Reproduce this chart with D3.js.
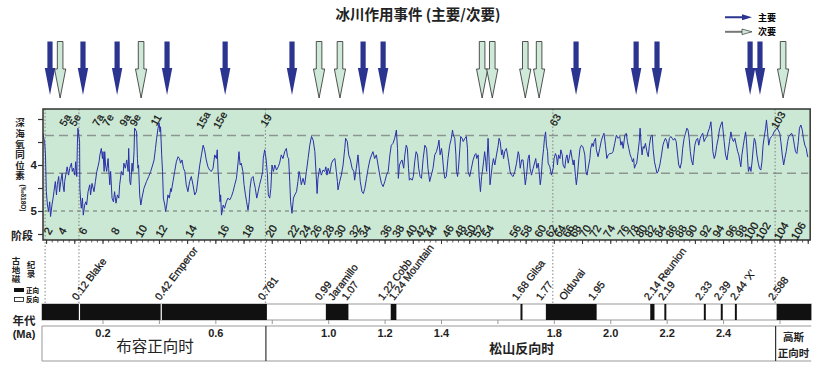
<!DOCTYPE html>
<html>
<head>
<meta charset="utf-8">
<script src="https://cdn.jsdelivr.net/npm/d3@7"></script>
<style>
  body { margin: 0; background: #fff; }
</style>
</head>
<body>
<svg id="chart" width="821" height="366"></svg>
<script>
// ---- data ----
var titleText = '冰川作用事件 (主要/次要)';

// glaciation events (Ma)
var majorEvents = [0.012, 0.129, 0.250, 0.427, 0.633, 0.870, 1.122, 1.193, 1.877, 2.090, 2.164, 2.494, 2.529];
var minorEvents = [0.048, 0.335, 0.966, 1.040, 1.544, 1.580, 1.697, 1.746, 2.611];

// deep sea oxygen isotope record, [age kyr, d18O permil]
var record1 = [[-13,3.31],[-10,3.42],[-7,3.49],[-4,3.78],[-1,4.58],[3,4.87],[7,5.01],[11,4.80],[14,5.12],[19,4.87],[23,4.72],[26,4.58],[31,4.36],[35,4.65],[38,4.43],[43,4.25],[46,4.58],[50,4.36],[55,4.18],[58,4.43],[62,4.58],[64,4.36],[70,4.14],[73,4.04],[78,4.22],[82,4.07],[88,3.96],[91,4.14],[95,4.07],[100,4.22],[103,3.93],[107,4.25],[109,3.57],[111,3.20],[114,3.35],[117,3.49],[118,4.51],[121,4.80],[123,4.94],[127,4.72],[130,5.09],[135,4.87],[139,4.80],[142,4.87],[147,4.58],[153,4.43],[156,4.65],[161,4.40],[168,4.58],[173,4.36],[178,4.14],[182,4.04],[186,3.93],[189,3.78],[194,3.64],[198,3.86],[200,3.71],[204,4.14],[206,3.71],[209,4.00],[213,4.14],[218,3.86],[220,4.07],[224,4.43],[227,4.14],[232,4.72],[237,4.80],[241,4.58],[246,4.83],[251,4.65],[256,4.72],[259,4.43],[265,4.14],[271,4.22],[274,3.96],[279,4.07],[284,3.89],[289,4.14],[291,3.64],[295,4.36],[298,4.43],[303,3.96],[306,4.14],[310,3.71],[312,3.20],[316,3.24],[319,3.28],[322,3.86],[324,4.07],[326,4.00],[330,4.65],[334,4.87],[338,4.72],[345,4.51],[354,4.36],[362,4.25],[369,4.14],[376,4.00],[381,3.89],[386,3.64],[390,3.42],[395,3.20],[399,3.09],[402,3.28],[404,3.17],[408,3.78],[411,4.14],[414,4.72],[419,4.87],[422,5.01],[426,4.87],[430,4.65],[435,4.72],[440,4.51],[442,4.58],[448,4.36],[454,4.14],[460,3.93],[466,3.82],[471,3.86],[475,3.96],[480,3.89],[485,4.07],[490,4.14],[495,4.43],[501,4.58],[507,4.36],[513,4.25],[519,4.43],[525,4.65],[531,4.58],[537,4.29],[543,4.00],[549,3.78],[555,3.57],[560,3.67],[566,3.89],[572,4.04],[578,4.11],[584,4.14],[590,4.07],[596,3.78],[602,3.86],[605,3.67],[608,4.14],[611,4.43],[615,4.80],[617,4.65],[620,5.09],[626,4.87],[631,4.94],[637,4.80],[643,4.72],[649,4.76],[655,4.69]];
var record2 = [[661,4.58],[667,4.43],[673,4.29],[679,3.93],[682,3.71],[686,4.00],[690,3.96],[696,4.14],[700,4.43],[705,4.65],[709,4.80],[714,4.98],[718,4.80],[721,4.51],[726,4.29],[732,4.25],[735,4.36],[740,4.51],[745,4.72],[750,4.58],[755,4.43],[761,4.29],[766,4.14],[768,3.86],[773,3.67],[778,3.86],[783,4.22],[786,4.65],[791,4.72],[795,4.51],[799,4.00],[804,4.14],[809,4.00],[815,4.11],[821,4.04],[826,3.96],[832,3.78],[838,3.86],[844,3.71],[850,3.64],[854,3.82],[858,3.86],[862,4.36],[865,4.80],[870,5.05],[875,4.72],[880,4.65],[886,4.58],[891,4.36],[895,4.14],[898,4.22],[903,4.43],[909,4.29],[915,4.43],[921,4.14],[927,3.86],[933,3.57],[939,3.38],[945,3.46],[951,3.71],[955,4.14],[959,4.62],[962,4.29],[968,4.07],[974,4.22],[980,4.11],[986,4.14],[990,4.04],[994,4.22],[998,4.07],[1004,4.18],[1010,3.96],[1016,3.89],[1022,3.86],[1027,4.14],[1031,4.36],[1033,4.54],[1039,4.36],[1045,4.22],[1051,4.00],[1057,3.64],[1060,3.42],[1066,3.49],[1071,3.78],[1077,3.89],[1083,4.07],[1089,4.14],[1092,4.33],[1098,4.07],[1104,3.78],[1108,4.07],[1112,4.36],[1118,4.58],[1123,4.62],[1128,4.51],[1134,4.29],[1140,4.07],[1146,3.89],[1152,3.78],[1157,3.71],[1163,3.86],[1169,3.78],[1175,4.00],[1181,4.22],[1187,4.40],[1193,4.47],[1199,4.36],[1205,4.22],[1211,4.14],[1217,3.78],[1222,3.57],[1228,3.53],[1234,3.42],[1240,3.24],[1244,3.64],[1247,4.29],[1251,4.00],[1256,3.93],[1260,3.89],[1266,4.07],[1270,3.78],[1275,3.57],[1279,3.64],[1283,4.07],[1286,4.33],[1291,4.29],[1296,4.33],[1300,4.25],[1305,3.93],[1310,3.71],[1315,3.78],[1319,4.07],[1324,4.25],[1329,4.29]];
var record3 = [[1335,3.86],[1341,3.57],[1347,3.64],[1352,4.07],[1358,4.36],[1364,4.22],[1370,4.07],[1376,3.78],[1382,3.71],[1388,3.57],[1391,3.46],[1395,3.78],[1400,3.64],[1403,3.78],[1408,4.14],[1412,4.29],[1417,4.25],[1423,3.86],[1429,3.57],[1435,3.42],[1439,3.24],[1442,3.35],[1447,3.42],[1451,3.78],[1453,4.14],[1457,4.25],[1461,4.00],[1465,3.64],[1468,3.38],[1473,3.42],[1477,3.49],[1483,3.42],[1488,3.38],[1492,3.64],[1494,4.14],[1500,4.25],[1506,4.07],[1512,3.89],[1518,3.78],[1522,3.75],[1525,3.86],[1530,3.78],[1533,4.22],[1538,4.58],[1542,4.25],[1545,4.14],[1549,3.93],[1553,3.71],[1557,3.93],[1560,4.14],[1565,3.42],[1569,3.93],[1572,4.43],[1576,4.22],[1580,4.00],[1584,3.86],[1589,4.00],[1595,3.78],[1601,3.57],[1604,3.42],[1608,3.49],[1613,3.78],[1616,3.67],[1620,3.86],[1624,3.71],[1630,3.64],[1634,3.78],[1638,3.93],[1643,4.14],[1648,4.22],[1654,4.25],[1660,4.14],[1666,3.96],[1672,3.71],[1675,3.78],[1679,4.07],[1684,3.89],[1689,3.89],[1693,4.14],[1697,4.43],[1701,4.25],[1707,3.86],[1711,3.78],[1714,4.07],[1719,4.22],[1725,4.07],[1731,3.93],[1734,3.86],[1738,4.07],[1743,3.96],[1746,4.14],[1750,4.43],[1753,4.29],[1757,3.93],[1762,3.64],[1765,3.42],[1769,3.28],[1772,3.57],[1776,3.71],[1778,3.96],[1784,4.04],[1790,4.22],[1796,4.07],[1799,3.86],[1804,3.75],[1808,3.82],[1811,4.00],[1815,3.78],[1820,3.86],[1823,3.67],[1828,3.78],[1831,4.00],[1837,4.07],[1841,3.86],[1845,3.78],[1849,3.96],[1855,3.78],[1858,3.67],[1863,3.86],[1867,4.00],[1870,3.89],[1875,4.25],[1878,4.43],[1882,4.22],[1887,3.86],[1891,3.64],[1896,3.57],[1901,3.60],[1904,3.67],[1908,3.78],[1912,4.14],[1916,4.22],[1920,4.07],[1926,3.86],[1929,3.64],[1934,3.53],[1938,3.60],[1941,3.49],[1946,3.42],[1949,3.67],[1955,3.82],[1961,3.64],[1967,3.46],[1973,3.35],[1976,3.31],[1981,3.57],[1986,3.86],[1991,3.78],[1997,3.75],[2003,3.75]];
var record4 = [[2008,3.71],[2014,3.53],[2020,3.35],[2026,3.42],[2032,3.38],[2036,3.57],[2040,3.49],[2044,3.64],[2050,3.35],[2055,3.31],[2059,3.49],[2064,3.64],[2069,3.78],[2074,3.86],[2077,3.93],[2081,3.86],[2084,4.07],[2088,4.00],[2092,3.96],[2097,3.71],[2101,3.49],[2104,3.20],[2108,3.57],[2111,3.78],[2115,3.60],[2118,3.64],[2123,3.53],[2128,3.71],[2133,3.82],[2137,3.57],[2142,3.38],[2147,3.35],[2150,3.64],[2155,3.93],[2160,4.07],[2164,4.18],[2168,4.14],[2174,4.00],[2180,3.78],[2185,3.57],[2189,3.49],[2194,3.42],[2199,3.49],[2203,3.64],[2208,3.42],[2213,3.38],[2218,3.42],[2222,3.46],[2227,3.42],[2232,3.49],[2237,3.78],[2241,4.00],[2246,4.07],[2251,3.93],[2255,3.64],[2260,3.42],[2265,3.31],[2270,3.20],[2274,3.24],[2278,3.42],[2282,3.71],[2286,3.89],[2291,4.00],[2295,3.75],[2298,3.57],[2303,3.46],[2308,3.42],[2312,3.57],[2317,3.42],[2322,3.35],[2326,3.31],[2331,3.49],[2336,3.42],[2341,3.38],[2345,3.28],[2350,3.20],[2355,3.06],[2358,3.28],[2362,3.71],[2367,3.86],[2371,3.78],[2376,3.57],[2381,3.42],[2385,3.24],[2390,3.13],[2395,3.06],[2398,3.24],[2402,3.49],[2407,3.78],[2412,3.89],[2416,3.71],[2421,3.49],[2426,3.28],[2430,3.42],[2435,3.49],[2440,3.42],[2445,3.57],[2450,3.71],[2454,3.78],[2458,3.93],[2461,4.04],[2465,3.78],[2470,3.57],[2474,3.42],[2478,3.28],[2481,3.46],[2485,3.86],[2488,4.14],[2493,4.04],[2497,4.14],[2501,3.93],[2506,3.57],[2509,3.42],[2513,3.49],[2518,3.78],[2523,3.96],[2527,4.07],[2532,4.11],[2536,3.93],[2540,3.57],[2545,3.35],[2549,3.20],[2552,3.02],[2556,3.28],[2560,3.57],[2565,3.42],[2570,3.38],[2574,3.35],[2579,3.28],[2584,3.24],[2589,3.20],[2594,3.24],[2599,3.31],[2603,3.49],[2608,3.78],[2613,4.00],[2617,3.86],[2622,3.71],[2627,3.49],[2631,3.38],[2636,3.35],[2641,3.31],[2646,3.38],[2651,3.57],[2655,3.71],[2660,3.75],[2665,3.49],[2669,3.20],[2674,3.13],[2679,3.24],[2683,3.42],[2688,3.57],[2693,3.64],[2698,3.82],[2700,3.82]];

// marine isotope stage labels and where they sit (Ma)
var stageNums = [2,4,6,8,10,12,14,16,18,20,22,24,26,28,30,32,34,36,38,40,42,44,46,48,50,52,54,56,58,60,62,64,66,68,70,72,74,76,78,80,82,84,86,88,90,92,94,96,98,100,102,104,106];
var stageAges = [0.005,0.055,0.129,0.243,0.335,0.406,0.512,0.626,0.714,0.796,0.874,0.916,0.955,0.998,1.040,1.093,1.129,1.203,1.246,1.292,1.328,1.363,1.423,1.466,1.501,1.530,1.565,1.661,1.700,1.750,1.789,1.820,1.849,1.874,1.909,1.945,1.994,2.044,2.079,2.108,2.140,2.175,2.214,2.249,2.285,2.335,2.381,2.427,2.462,2.498,2.540,2.604,2.665];
var peakNames = ['5a','5e','7a','7e','9a','9e','11','15a','15e','19','63','103'];
var peakAges = [0.065,0.101,0.182,0.218,0.278,0.314,0.388,0.555,0.615,0.778,1.803,2.594];
var guideAges = [0, 0.12, 0.781, 1.8, 2.588];

var yTicks = [3, 3.5, 4, 4.5, 5, 5.5];
var yTickLabels = [4, 5];
var gridValues = [3.36, 4.18, 5.0];

// palaeomagnetic record (Ma)
var normalChrons = [[-0.02,0.781],[0.99,1.07],[1.22,1.24],[1.68,1.687],[1.77,1.95],[2.14,2.155],[2.19,2.197],[2.33,2.337],[2.39,2.397],[2.44,2.447],[2.588,2.72]];
var excursions = [0.12, 0.41];
var polarityNames = ['0.12 Blake','0.42 Emperor','0.781','0.99','Jaramillo','1.07','1.22 Cobb','1.24 Mountain','1.68 Gilsa','1.77','Olduvai','1.95','2.14 Reunion','2.19','2.33','2.39','2.44 \u2018X\u2019','2.588'];
var polarityNameAges = [0.108,0.402,0.767,0.969,1.016,1.064,1.193,1.232,1.668,1.753,1.835,1.938,2.136,2.186,2.317,2.384,2.441,2.576];

var ageTicks = [0.2,0.4,0.6,0.8,1.0,1.2,1.4,1.6,1.8,2.0,2.2,2.4,2.6];
var ageTickLabels = ['0.2','0.6','1.0','1.2','1.4','1.8','2.0','2.2','2.4'];
var epochNames = ['布容正向时', '松山反向时', '高斯|正向时'];
var epochBounds = [0.781, 2.588];

// ---- layout ----
var CJK = '"Noto Sans CJK SC", "Noto Sans", sans-serif';
var LAT = '"Liberation Sans", Arial, sans-serif';
var ageMin = -0.0128, ageMax = 2.707;
var plotTop = 109, plotBottom = 240;
var barTop = 304, barBottom = 320;
var boxTop = 326, boxBottom = 361;

var svg = d3.select('#chart');

var x = d3.scaleLinear().domain([0, 2.6]).range([46.6, 780]);
var y = d3.scaleLinear().domain([3, 5]).range([119, 211]);
var L = x(ageMin), R = x(ageMax);

// title
svg.append('text')
  .attr('x', 418).attr('y', 20)
  .attr('text-anchor', 'middle')
  .style('font', 'bold 14.5px ' + CJK)
  .style('fill', '#222')
  .text(titleText);

// arrows
function downArrow(cx, half, headHalf, top, neck, tip) {
  return 'M' + (cx - half) + ',' + top + 'H' + (cx + half) + 'V' + neck +
    'H' + (cx + headHalf) + 'L' + cx + ',' + tip + 'L' + (cx - headHalf) + ',' + neck +
    'H' + (cx - half) + 'Z';
}
svg.append('g').selectAll('path')
  .data(minorEvents).enter().append('path')
  .attr('d', function(d) { return downArrow(x(d), 2.8, 5.6, 41.5, 69, 98); })
  .attr('fill', '#cfe9d9')
  .attr('stroke', '#2a2a2a')
  .attr('stroke-width', 0.8);
svg.append('g').selectAll('path')
  .data(majorEvents).enter().append('path')
  .attr('d', function(d) { return downArrow(x(d), 2.6, 5.2, 41.5, 68, 95); })
  .attr('fill', '#2b3590');

// legend
var leg = svg.append('g');
leg.append('path')
  .attr('d', 'M725,16.3H742V14.3L752,17.3L742,20.3V18.3H725Z')
  .attr('fill', '#2b3590');
leg.append('path')
  .attr('d', 'M725,30.8H742V32.8H725Z')
  .attr('fill', '#777');
leg.append('path')
  .attr('d', 'M742,29L752,31.8L742,34.6Z')
  .attr('fill', '#cfe9d9').attr('stroke', '#333').attr('stroke-width', 0.7);
leg.append('text').attr('x', 758).attr('y', 20.5).style('font', 'bold 9px ' + CJK).text('主要');
leg.append('text').attr('x', 758).attr('y', 35).style('font', 'bold 9px ' + CJK).text('次要');

// plot background
svg.append('rect')
  .attr('x', L).attr('y', plotTop)
  .attr('width', R - L).attr('height', plotBottom - plotTop)
  .attr('fill', '#cbe8d5');

// grid lines
svg.append('g').selectAll('line')
  .data(gridValues).enter().append('line')
  .attr('x1', L + 2).attr('x2', R - 2)
  .attr('y1', function(d) { return y(d); })
  .attr('y2', function(d) { return y(d); })
  .attr('stroke', '#8c9690')
  .attr('stroke-width', 1.5)
  .attr('stroke-dasharray', function(d, i) { return i < 2 ? '9,5' : '4,4'; });

// dotted guides
svg.append('g').selectAll('line')
  .data(guideAges).enter().append('line')
  .attr('x1', function(d) { return x(d) - 1.5; })
  .attr('x2', function(d) { return x(d) - 1.5; })
  .attr('y1', plotTop).attr('y2', barTop)
  .attr('stroke', '#777')
  .attr('stroke-width', 0.9)
  .attr('stroke-dasharray', '1.5,2');

// isotope curve
svg.append('clipPath').attr('id', 'plotclip')
  .append('rect').attr('x', L).attr('y', plotTop).attr('width', R - L).attr('height', plotBottom - plotTop);
var line = d3.line()
  .x(function(d) { return x(d[0] / 1000); })
  .y(function(d) { return y(d[1]); });
svg.append('path')
  .datum(record1.concat(record2, record3, record4))
  .attr('clip-path', 'url(#plotclip)')
  .attr('d', line)
  .attr('fill', 'none')
  .attr('stroke', '#2a30a8')
  .attr('stroke-width', 1)
  .attr('stroke-linejoin', 'round');

// frame
svg.append('rect')
  .attr('x', L).attr('y', plotTop)
  .attr('width', R - L).attr('height', plotBottom - plotTop)
  .attr('fill', 'none')
  .attr('stroke', '#333')
  .attr('stroke-width', 1.5);

// y axis
var yAxis = svg.append('g')
  .attr('transform', 'translate(' + L + ',0)')
  .call(d3.axisLeft(y).tickValues(yTicks).tickSize(5)
    .tickFormat(function(d) { return yTickLabels.indexOf(d) >= 0 ? d : ''; }));
yAxis.select('.domain').remove();
yAxis.selectAll('line').attr('stroke', '#333').attr('stroke-width', 1.2);
yAxis.selectAll('text').style('font', 'bold 11.5px ' + LAT).attr('fill', '#222').attr('x', -6);

// vertical CJK labels on the left
function verticalText(str, cx, top, size, gap) {
  svg.append('text')
    .attr('x', cx).attr('y', top)
    .style('writing-mode', 'vertical-rl')
    .style('font', 'bold ' + size + 'px ' + CJK)
    .style('letter-spacing', gap + 'px')
    .attr('fill', '#222')
    .text(str);
}
verticalText('深海氧同位素', 20, 118, 9.5, 1.1);
svg.append('text')
  .attr('transform', 'translate(21,198) rotate(90)')
  .attr('text-anchor', 'middle')
  .style('font', 'bold 6.5px ' + LAT)
  .attr('fill', '#222')
  .text('(\u2030\u03b418O)');

// stage ruler under the plot
var ruler = svg.append('g').attr('transform', 'translate(0,' + plotBottom + ')');
ruler.selectAll('line.minor')
  .data(d3.range(0, 2.71, 0.02)).enter().append('line')
  .attr('x1', function(d) { return x(d); })
  .attr('x2', function(d) { return x(d); })
  .attr('y1', 0).attr('y2', 2.5)
  .attr('stroke', '#333').attr('stroke-width', 0.8);
ruler.selectAll('line.major')
  .data(d3.range(0, 2.71, 0.1)).enter().append('line')
  .attr('x1', function(d) { return x(d); })
  .attr('x2', function(d) { return x(d); })
  .attr('y1', 0).attr('y2', 4)
  .attr('stroke', '#333').attr('stroke-width', 1);

// stage numbers
svg.append('g').selectAll('text')
  .data(stageNums).enter().append('text')
  .attr('transform', function(d, i) { return 'translate(' + x(stageAges[i]) + ',231) rotate(-60)'; })
  .attr('text-anchor', 'middle')
  .attr('dy', '0.35em')
  .style('font', '11px ' + LAT)
  .attr('fill', '#111')
  .attr('stroke', '#111')
  .attr('stroke-width', 0.25)
  .text(function(d) { return d; });

// peak names along the top
svg.append('g').selectAll('text')
  .data(peakNames).enter().append('text')
  .attr('transform', function(d, i) { return 'translate(' + x(peakAges[i]) + ',120) rotate(-60)'; })
  .attr('text-anchor', 'middle')
  .attr('dy', '0.35em')
  .style('font', '10.5px ' + LAT)
  .attr('fill', '#111')
  .attr('stroke', '#111')
  .attr('stroke-width', 0.25)
  .text(function(d) { return d; });

// left row labels
svg.append('text').attr('x', 22).attr('y', 240).attr('text-anchor', 'middle')
  .style('font', 'bold 11px ' + CJK).attr('fill', '#222').text('阶段');
verticalText('古地磁', 16, 257, 8.5, 0.5);
verticalText('纪录', 31, 261, 8.5, 0.5);
svg.append('rect').attr('x', 14).attr('y', 288).attr('width', 10).attr('height', 4).attr('fill', '#111');
svg.append('rect').attr('x', 14.5).attr('y', 297.5).attr('width', 9).attr('height', 4).attr('fill', '#fff').attr('stroke', '#111').attr('stroke-width', 0.8);
svg.append('text').attr('x', 26).attr('y', 292.5).style('font', 'bold 6.5px ' + CJK).text('正向');
svg.append('text').attr('x', 26).attr('y', 302).style('font', 'bold 6.5px ' + CJK).text('反向');
svg.append('text').attr('x', 24).attr('y', 325).attr('text-anchor', 'middle')
  .style('font', 'bold 11.5px ' + CJK).attr('fill', '#222').text('年代');
svg.append('text').attr('x', 24).attr('y', 338).attr('text-anchor', 'middle')
  .style('font', 'bold 11px ' + LAT).attr('fill', '#222').text('(Ma)');

// polarity bar
svg.append('rect')
  .attr('x', x(ageMin) - 1).attr('y', barTop)
  .attr('width', R - L + 2).attr('height', barBottom - barTop)
  .attr('fill', '#fff').attr('stroke', '#999').attr('stroke-width', 1);
svg.append('g').selectAll('rect')
  .data(normalChrons).enter().append('rect')
  .attr('x', function(d) { return Math.max(x(d[0]), L - 1); })
  .attr('width', function(d) { return Math.min(x(d[1]), R + 1) - Math.max(x(d[0]), L - 1); })
  .attr('y', barTop).attr('height', barBottom - barTop)
  .attr('fill', '#111');
svg.append('g').selectAll('line')
  .data(excursions).enter().append('line')
  .attr('x1', function(d) { return x(d) - 1; })
  .attr('x2', function(d) { return x(d) - 1; })
  .attr('y1', barTop).attr('y2', barBottom)
  .attr('stroke', '#fff').attr('stroke-width', 1.2);

svg.append('g').selectAll('text')
  .data(polarityNames).enter().append('text')
  .attr('transform', function(d, i) { return 'translate(' + x(polarityNameAges[i]) + ',301) rotate(-53)'; })
  .style('font', '10.5px ' + LAT)
  .attr('fill', '#111')
  .attr('stroke', '#111')
  .attr('stroke-width', 0.25)
  .text(function(d) { return d; });

// age axis ruler
var ageAxis = svg.append('g');
ageAxis.append('line').attr('x1', L - 1).attr('x2', R + 1).attr('y1', boxTop).attr('y2', boxTop)
  .attr('stroke', '#999').attr('stroke-width', 1);
ageAxis.selectAll('line.tick')
  .data(ageTicks).enter().append('line')
  .attr('x1', function(d) { return x(d); })
  .attr('x2', function(d) { return x(d); })
  .attr('y1', barBottom).attr('y2', barBottom + 4)
  .attr('stroke', '#999').attr('stroke-width', 1);
ageAxis.selectAll('text')
  .data(ageTickLabels).enter().append('text')
  .attr('x', function(d) { return x(+d); })
  .attr('y', 337)
  .attr('text-anchor', 'middle')
  .style('font', 'bold 11px ' + LAT)
  .attr('fill', '#222')
  .text(function(d) { return d; });

// chron box
svg.append('path')
  .attr('d', 'M' + (L - 1) + ',' + boxTop + 'V' + boxBottom + 'H' + (R + 1))
  .attr('fill', 'none').attr('stroke', '#999').attr('stroke-width', 1);
svg.append('g').selectAll('line')
  .data(epochBounds).enter().append('line')
  .attr('x1', function(d) { return x(d) - 1; })
  .attr('x2', function(d) { return x(d) - 1; })
  .attr('y1', boxTop).attr('y2', boxBottom)
  .attr('stroke', '#333').attr('stroke-width', 1.2);

var spans = [ageMin].concat(epochBounds, [ageMax]);
var epochStyles = ['15.5px', 'bold 13px', 'bold 10.5px'];
var epochY = [352, 353, 341];
epochNames.forEach(function(name, i) {
  var cx = (x(spans[i]) + x(spans[i + 1])) / 2;
  var t = svg.append('text')
    .attr('x', cx).attr('y', epochY[i])
    .attr('text-anchor', 'middle')
    .style('font', epochStyles[i] + ' ' + CJK)
    .attr('fill', '#222');
  name.split('|').forEach(function(part, j) {
    t.append('tspan').attr('x', cx).attr('dy', j === 0 ? 0 : 15.5).text(part);
  });
});
</script>
</body>
</html>
